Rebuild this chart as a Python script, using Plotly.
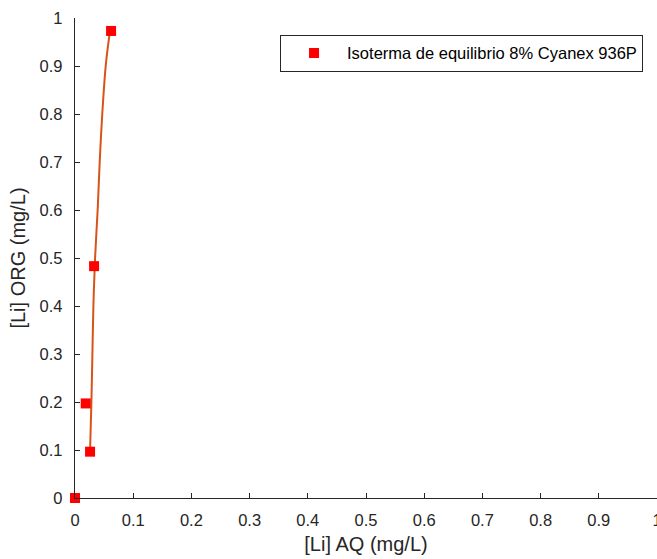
import plotly.graph_objects as go

# Experimental points
x_pts = [0.0, 0.0259, 0.0184, 0.0328, 0.062]
y_pts = [0.0, 0.0965, 0.197, 0.483, 0.973]

# Fitted curve
curve_x = [0.0259, 0.0282, 0.0299, 0.0316, 0.0345, 0.039, 0.0425, 0.047, 0.053, 0.0603]
curve_y = [0.0985, 0.2, 0.3, 0.4, 0.5, 0.602, 0.702, 0.803, 0.903, 0.974]

series_name = "Isoterma de equilibrio 8% Cyanex 936P"
x_title = "[Li] AQ (mg/L)"
y_title = "[Li] ORG (mg/L)"

fig = go.Figure()
fig.add_trace(go.Scatter(x=curve_x, y=curve_y, mode="lines", line=dict(color="#D95319", width=2, shape="spline"),
                         showlegend=False, hoverinfo="skip", cliponaxis=False))
fig.add_trace(go.Scatter(x=x_pts, y=y_pts, mode="markers", name=series_name,
                         marker=dict(symbol="square", size=10, color="#FF0000"), cliponaxis=False))

axis_common = dict(
    showgrid=False, zeroline=False, showline=True, linecolor="#262626", linewidth=1.3,
    ticks="inside", ticklen=5, tickcolor="#262626", tickwidth=1.3,
    tickfont=dict(family="Liberation Sans, Arial", size=16.5, color="#262626"),
    dtick=0.1, tick0=0, ticklabeloverflow="allow", automargin=False,
)

fig.update_layout(
    width=657, height=559,
    margin=dict(l=75, r=0, t=18, b=61),
    paper_bgcolor="white", plot_bgcolor="white",
    font=dict(family="Liberation Sans, Arial", color="#262626"),
    xaxis=dict(range=[0, 1], title=dict(text=x_title, font=dict(size=20), standoff=9),
               ticklabelstandoff=7, **axis_common),
    yaxis=dict(range=[0, 1], title=dict(text=y_title, font=dict(size=20), standoff=8),
               ticklabelstandoff=8, **axis_common),
    legend=dict(x=0.976, y=0.965, xanchor="right", yanchor="top", bordercolor="#262626", borderwidth=1,
                font=dict(size=16.5, color="#000000"), itemwidth=56, bgcolor="white"),
)

fig.write_html("out.html")
